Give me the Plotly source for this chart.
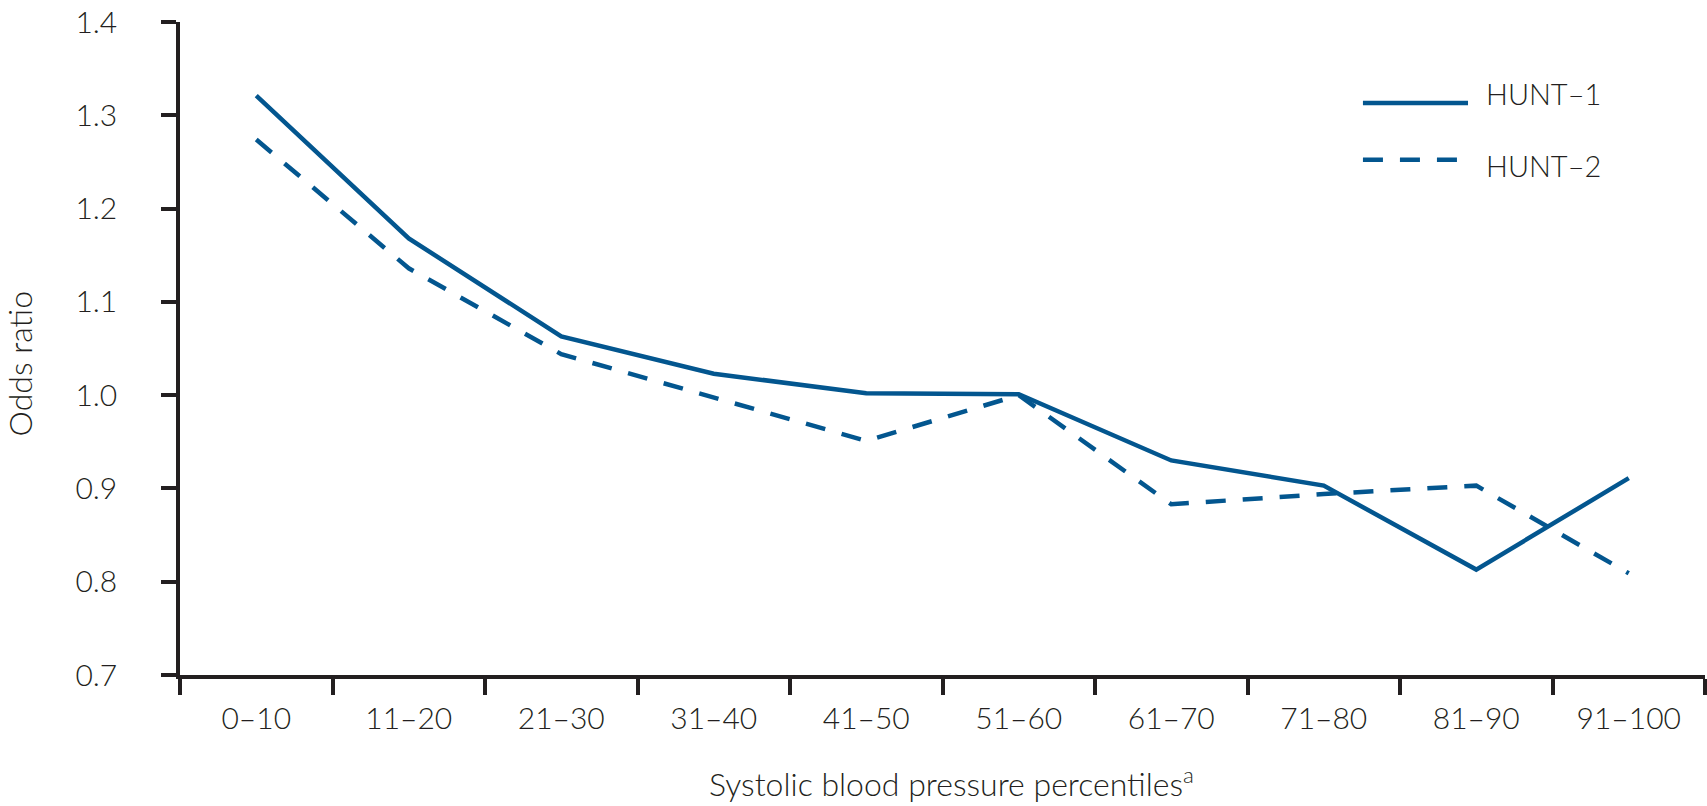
import plotly.graph_objects as go

categories = ["0–10", "11–20", "21–30", "31–40", "41–50",
              "51–60", "61–70", "71–80", "81–90", "91–100"]
hunt1 = [1.321, 1.168, 1.063, 1.023, 1.002, 1.001, 0.930, 0.903, 0.813, 0.911]
hunt2 = [1.274, 1.136, 1.044, 0.998, 0.951, 1.000, 0.883, 0.894, 0.903, 0.809]
series_names = ["HUNT–1", "HUNT–2"]
y_ticks = [0.7, 0.8, 0.9, 1.0, 1.1, 1.2, 1.3, 1.4]
y_tick_text = ["0.7", "0.8", "0.9", "1.0", "1.1", "1.2", "1.3", "1.4"]

LINE = "#03568f"
TXT = "#231f20"
FONT = "Lato"
DASH = "20px,17px"
W = 300

fig = go.Figure()
fig.add_trace(go.Scatter(x=categories, y=hunt1, mode="lines", name=series_names[0],
                         line=dict(color=LINE, width=4.5), showlegend=False))
fig.add_trace(go.Scatter(x=categories, y=hunt2, mode="lines", name=series_names[1],
                         line=dict(color=LINE, width=4.5, dash=DASH), showlegend=False))

fig.update_layout(
    width=1707, height=806,
    margin=dict(l=180, r=2, t=12, b=131),
    plot_bgcolor="white", paper_bgcolor="white",
    font=dict(family=FONT, size=29, color=TXT, weight=W),
)
fig.update_xaxes(
    type="category", range=[-0.5, 9.5], tickson="boundaries",
    showline=True, linecolor=TXT, linewidth=3.5,
    ticks="outside", ticklen=16, tickwidth=3.5, tickcolor=TXT,
    showgrid=False, zeroline=False, ticklabelstandoff=14,
    ticklabeloverflow="allow",
    tickfont=dict(family=FONT, size=30, color=TXT, weight=W),
)
fig.update_yaxes(
    range=[0.7, 1.4], tickmode="array", tickvals=y_ticks, ticktext=y_tick_text,
    showline=True, linecolor=TXT, linewidth=3.5,
    ticks="outside", ticklen=15, tickwidth=3.5, tickcolor=TXT,
    showgrid=False, zeroline=False, ticklabelstandoff=38,
    ticklabeloverflow="allow",
    tickfont=dict(family=FONT, size=30, color=TXT, weight=W),
)

# axis titles
fig.add_annotation(text="Systolic blood pressure percentiles<sup>a</sup>",
                   xref="paper", yref="paper", x=0.506, y=-0.164,
                   xanchor="center", yanchor="middle", showarrow=False,
                   font=dict(family=FONT, size=32, color=TXT, weight=W))
fig.add_annotation(text="Odds ratio", xref="paper", yref="paper",
                   x=-0.105, y=0.477, textangle=-90,
                   xanchor="center", yanchor="middle", showarrow=False,
                   font=dict(family=FONT, size=32, color=TXT, weight=W))

# legend (manual, long samples)
legend_rows = [(0.876, None, 0.891), (0.789, DASH, 0.781)]
for name, (ly, dash, ty) in zip(series_names, legend_rows):
    fig.add_shape(type="line", xref="paper", yref="paper",
                  x0=0.7757, x1=0.8446, y0=ly, y1=ly,
                  line=dict(color=LINE, width=4.5, dash=dash))
    fig.add_annotation(text=name, xref="paper", yref="paper", x=0.855, y=ty,
                       xanchor="left", yanchor="middle", showarrow=False,
                       font=dict(family=FONT, size=29, color=TXT, weight=W))

fig.write_html("out.html", config={"displayModeBar": False},
               post_script="document.body.style.margin='0';")
